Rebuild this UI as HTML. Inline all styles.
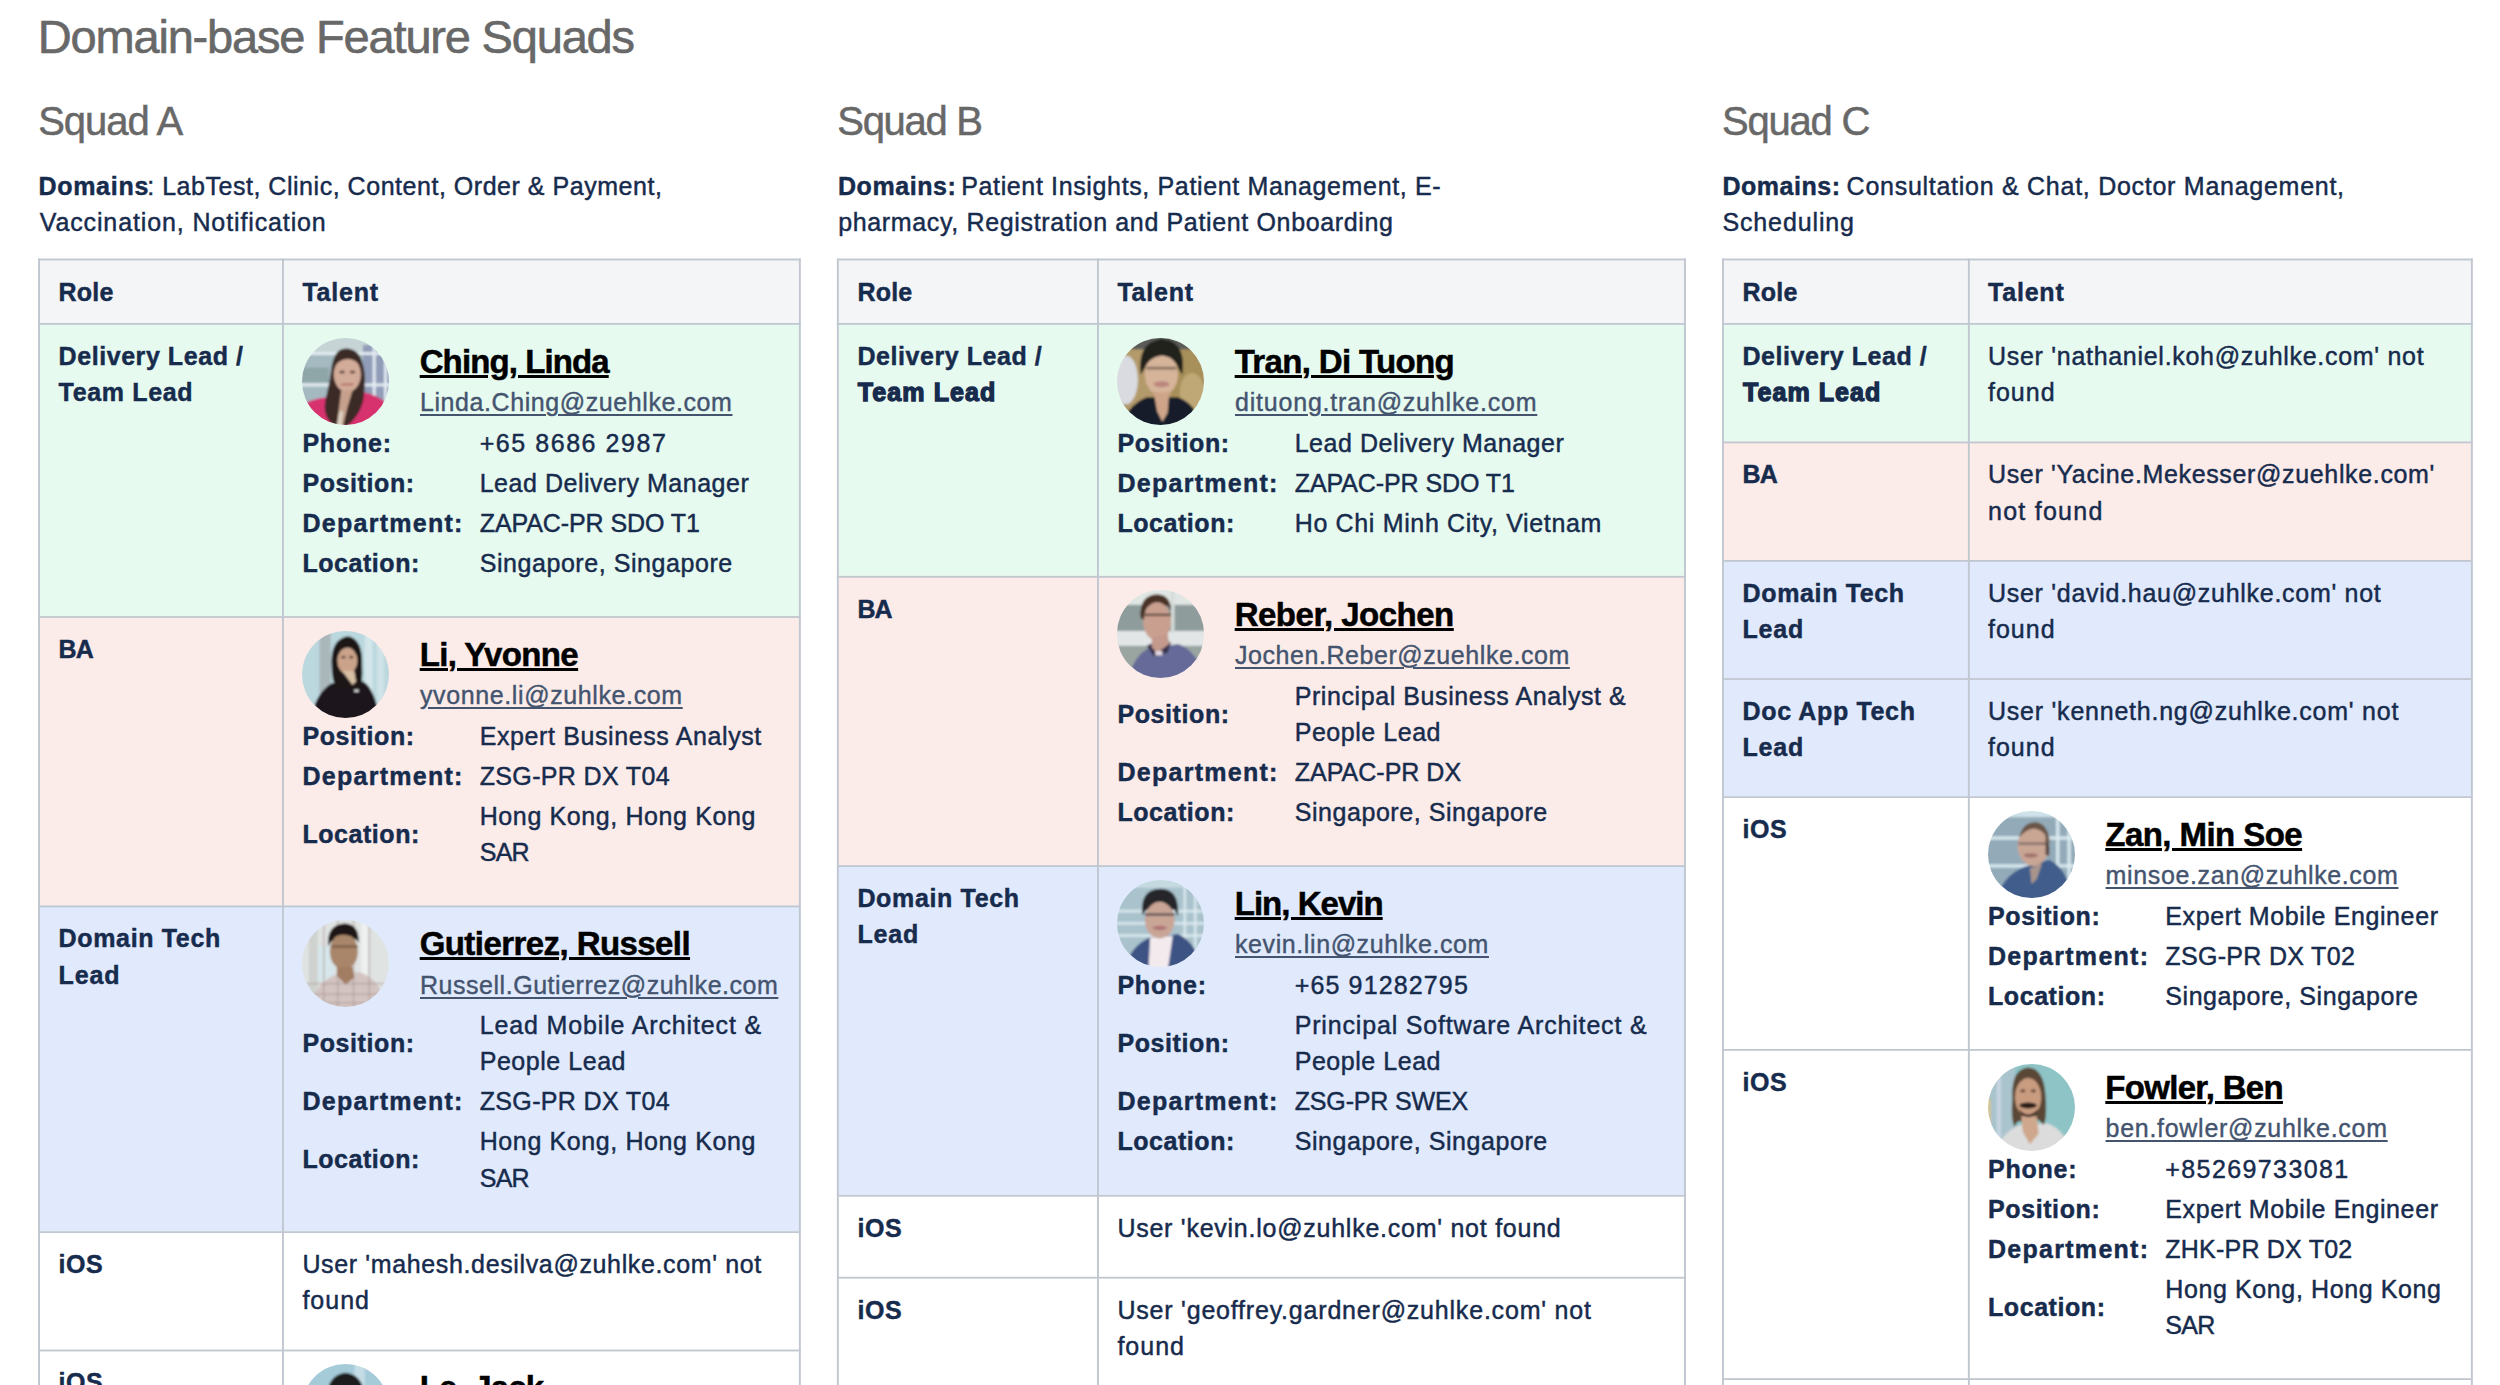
<!DOCTYPE html>
<html lang="en"><head><meta charset="utf-8"><title>Domain-base Feature Squads</title>
<style>
html,body{margin:0;padding:0;background:#fff}
body{width:2500px;height:1385px;overflow:hidden;position:relative;font-family:"Liberation Sans", sans-serif;color:#172b4d}
#grid{position:absolute;left:0;top:0;width:2500px;height:1385px;display:block}
.w{margin:0;padding:0}
.t{position:absolute;white-space:pre;margin:0;display:block}
strong.t{font-weight:700}
.r{font-size:25px;font-weight:400;line-height:36px;-webkit-text-stroke:0.45px #172b4d}
.r b{font-size:25px;font-weight:700;-webkit-text-stroke-width:0.45px}
.b,.bb{font-size:25px;font-weight:700;line-height:36px;-webkit-text-stroke:0.45px #172b4d}
.bb{-webkit-text-stroke-width:1.3px}
.n{font-size:33px;font-weight:700;line-height:44px;color:#000;-webkit-text-stroke:0.5px #000;text-decoration:underline;text-decoration-thickness:2.6px;text-underline-offset:1.8px;text-decoration-skip-ink:auto}
.e{font-size:25px;font-weight:400;line-height:36px;color:#44546f;-webkit-text-stroke:0.4px #44546f;text-decoration:underline;text-decoration-thickness:2px;text-underline-offset:3px}
.h1{font-size:47px;font-weight:400;line-height:60px;color:#686868;-webkit-text-stroke:0.6px #686868}
.h2{font-size:40px;font-weight:400;line-height:52px;color:#686868;-webkit-text-stroke:0.5px #686868}
.av{position:absolute;width:87.2px;height:87.2px;border-radius:50%;overflow:hidden}
.av svg{display:block;width:100%;height:100%}
</style></head>
<body>
<svg id="grid" viewBox="0 0 2500 1385">
<rect x="38.1" y="258.60" width="762.70" height="64.40" fill="#f4f5f7"/>
<rect x="38.1" y="323.00" width="762.70" height="293.10" fill="#e7faf0"/>
<rect x="38.1" y="616.10" width="762.70" height="289.40" fill="#fbece9"/>
<rect x="38.1" y="905.50" width="762.70" height="325.70" fill="#e0eafc"/>
<rect x="38.1" y="1231.20" width="762.70" height="118.40" fill="#ffffff"/>
<rect x="38.1" y="1349.60" width="762.70" height="50.40" fill="#ffffff"/>
<rect x="38.1" y="258.60" width="762.70" height="1.8" fill="#c1c7d0"/>
<rect x="38.1" y="323.00" width="762.70" height="1.8" fill="#c1c7d0"/>
<rect x="38.1" y="616.10" width="762.70" height="1.8" fill="#c1c7d0"/>
<rect x="38.1" y="905.50" width="762.70" height="1.8" fill="#c1c7d0"/>
<rect x="38.1" y="1231.20" width="762.70" height="1.8" fill="#c1c7d0"/>
<rect x="38.1" y="1349.60" width="762.70" height="1.8" fill="#c1c7d0"/>
<rect x="38.10" y="258.60" width="1.9" height="1141.40" fill="#c1c7d0"/>
<rect x="282.00" y="258.60" width="1.9" height="1141.40" fill="#c1c7d0"/>
<rect x="798.90" y="258.60" width="1.9" height="1141.40" fill="#c1c7d0"/>
<rect x="836.9" y="258.60" width="849.00" height="64.40" fill="#f4f5f7"/>
<rect x="836.9" y="323.00" width="849.00" height="252.90" fill="#e7faf0"/>
<rect x="836.9" y="575.90" width="849.00" height="289.30" fill="#fbece9"/>
<rect x="836.9" y="865.20" width="849.00" height="329.70" fill="#e0eafc"/>
<rect x="836.9" y="1194.90" width="849.00" height="81.90" fill="#ffffff"/>
<rect x="836.9" y="1276.80" width="849.00" height="123.20" fill="#ffffff"/>
<rect x="836.9" y="258.60" width="849.00" height="1.8" fill="#c1c7d0"/>
<rect x="836.9" y="323.00" width="849.00" height="1.8" fill="#c1c7d0"/>
<rect x="836.9" y="575.90" width="849.00" height="1.8" fill="#c1c7d0"/>
<rect x="836.9" y="865.20" width="849.00" height="1.8" fill="#c1c7d0"/>
<rect x="836.9" y="1194.90" width="849.00" height="1.8" fill="#c1c7d0"/>
<rect x="836.9" y="1276.80" width="849.00" height="1.8" fill="#c1c7d0"/>
<rect x="836.90" y="258.60" width="1.9" height="1141.40" fill="#c1c7d0"/>
<rect x="1097.00" y="258.60" width="1.9" height="1141.40" fill="#c1c7d0"/>
<rect x="1684.00" y="258.60" width="1.9" height="1141.40" fill="#c1c7d0"/>
<rect x="1722.0" y="258.60" width="750.80" height="64.40" fill="#f4f5f7"/>
<rect x="1722.0" y="323.00" width="750.80" height="118.50" fill="#e7faf0"/>
<rect x="1722.0" y="441.50" width="750.80" height="118.50" fill="#fbece9"/>
<rect x="1722.0" y="560.00" width="750.80" height="118.10" fill="#e0eafc"/>
<rect x="1722.0" y="678.10" width="750.80" height="118.10" fill="#e0eafc"/>
<rect x="1722.0" y="796.20" width="750.80" height="252.80" fill="#ffffff"/>
<rect x="1722.0" y="1049.00" width="750.80" height="329.20" fill="#ffffff"/>
<rect x="1722.0" y="1378.20" width="750.80" height="21.80" fill="#ffffff"/>
<rect x="1722.0" y="258.60" width="750.80" height="1.8" fill="#c1c7d0"/>
<rect x="1722.0" y="323.00" width="750.80" height="1.8" fill="#c1c7d0"/>
<rect x="1722.0" y="441.50" width="750.80" height="1.8" fill="#c1c7d0"/>
<rect x="1722.0" y="560.00" width="750.80" height="1.8" fill="#c1c7d0"/>
<rect x="1722.0" y="678.10" width="750.80" height="1.8" fill="#c1c7d0"/>
<rect x="1722.0" y="796.20" width="750.80" height="1.8" fill="#c1c7d0"/>
<rect x="1722.0" y="1049.00" width="750.80" height="1.8" fill="#c1c7d0"/>
<rect x="1722.0" y="1378.20" width="750.80" height="1.8" fill="#c1c7d0"/>
<rect x="1722.00" y="258.60" width="1.9" height="1141.40" fill="#c1c7d0"/>
<rect x="1967.90" y="258.60" width="1.9" height="1141.40" fill="#c1c7d0"/>
<rect x="2470.90" y="258.60" width="1.9" height="1141.40" fill="#c1c7d0"/>
</svg>

<h1 class="t h1" style="left:37.8px;top:6.8px;letter-spacing:-1.19px">Domain-base Feature Squads</h1>
<section class="w" aria-label="Squad A">
<h2 class="t h2" style="left:38.2px;top:94.5px;letter-spacing:-1.05px">Squad A</h2>
<p class="w"><strong class="t b" style="left:38.4px;top:167.6px;letter-spacing:0.72px">Domains</strong><span class="t r" style="left:147.2px;top:167.6px;letter-spacing:0.53px">: LabTest, Clinic, Content, Order &amp; Payment,</span><span class="t r" style="left:39.7px;top:203.8px;letter-spacing:0.88px">Vaccination, Notification</span></p>
<div class="w" role="table">
<div class="w" role="row">
<div class="w" role="columnheader"><strong class="t b" style="left:58.6px;top:274.1px;letter-spacing:0.21px">Role</strong></div>
<div class="w" role="columnheader"><strong class="t b" style="left:302.4px;top:274.1px;letter-spacing:0.80px">Talent</strong></div>
</div>
<div class="w" role="row">
<div class="w" role="rowheader"><strong class="t b" style="left:58.6px;top:337.8px;letter-spacing:0.56px">Delivery Lead /</strong><strong class="t b" style="left:58.6px;top:374.0px;letter-spacing:0.66px">Team Lead</strong></div>
<div class="w" role="cell"><div class="av" style="left:302.2px;top:337.5px"><svg viewBox="0 0 100 100"><defs><filter id="fli" x="-10%" y="-10%" width="120%" height="120%"><feGaussianBlur stdDeviation="1.1"/></filter></defs><g filter="url(#fli)"><rect x="-5" y="-5" width="110" height="110" fill="#a5b9c1"/><rect x="-5" y="-5" width="110" height="21" fill="#c6d4d6"/><rect x="-5" y="34" width="36" height="17" fill="#8fa6a9"/><rect x="70" y="8" width="35" height="84" fill="#909cb8"/><rect x="81" y="-5" width="3.6" height="110" fill="#e6eef3" opacity="0.92"/><rect x="94" y="-5" width="3.6" height="110" fill="#e6eef3" opacity="0.92"/><rect x="-5" y="16" width="110" height="3.6" fill="#e6eef3" opacity="0.92"/><rect x="-5" y="52" width="110" height="3.6" fill="#e6eef3" opacity="0.92"/><path d="M-5 105 L-5 80 Q8 70 28 68 L70 62 Q90 66 100 78 L105 105 Z" fill="#d7306e"/><path d="M50 12 C40 12 35 22 33 40 C31 55 27 68 26 78 C26 88 30 96 38 101 L52 101 C62 92 70 80 71 66 C73 50 73 36 67 22 C62 13 55 12 50 12 Z" fill="#3b2a25"/><ellipse cx="52" cy="42" rx="15.5" ry="20" fill="#d3ab99"/><path d="M45 60 L58 60 L52 80 L47 101 L40 101 Z" fill="#c6a08c"/><path d="M43 84 L47 84 L45 101 L40 101 Z" fill="#dcd3c4"/><path d="M36 34 Q44 16 58 18 Q66 20 69 34 Q62 24 52 24 Q42 25 36 34 Z" fill="#3b2a25"/><ellipse cx="46" cy="39" rx="3.2" ry="1.8" fill="#3e2a26" opacity="0.75"/><ellipse cx="58" cy="39" rx="3.2" ry="1.8" fill="#3e2a26" opacity="0.75"/><rect x="45" y="52" width="14" height="2.6" fill="#a8605c" opacity="0.65"/></g></svg></div><a class="t n" style="left:419.7px;top:339.6px;letter-spacing:-0.90px">Ching, Linda</a><a class="t e" style="left:420.0px;top:384.0px;letter-spacing:0.58px">Linda.Ching@zuehlke.com</a><strong class="t b" style="left:302.4px;top:424.6px;letter-spacing:0.77px">Phone:</strong><div class="t r" style="left:479.7px;top:424.6px;letter-spacing:1.55px">+65 8686 2987</div><strong class="t b" style="left:302.4px;top:464.6px;letter-spacing:0.60px">Position:</strong><div class="t r" style="left:479.7px;top:464.6px;letter-spacing:0.53px">Lead Delivery Manager</div><strong class="t b" style="left:302.4px;top:504.6px;letter-spacing:1.28px">Department:</strong><div class="t r" style="left:479.7px;top:504.6px;letter-spacing:-0.08px">ZAPAC-PR SDO T1</div><strong class="t b" style="left:302.4px;top:544.6px;letter-spacing:0.56px">Location:</strong><div class="t r" style="left:479.7px;top:544.6px;letter-spacing:0.56px">Singapore, Singapore</div></div>
</div>
<div class="w" role="row">
<div class="w" role="rowheader"><strong class="t b" style="left:58.6px;top:630.9px;letter-spacing:-0.89px">BA</strong></div>
<div class="w" role="cell"><div class="av" style="left:302.2px;top:630.6px"><svg viewBox="0 0 100 100"><defs><filter id="fyv" x="-10%" y="-10%" width="120%" height="120%"><feGaussianBlur stdDeviation="1.1"/></filter></defs><g filter="url(#fyv)"><rect x="-5" y="-5" width="110" height="110" fill="#bbd8df"/><rect x="20" y="-5" width="13" height="80" fill="#aab7ba"/><rect x="72" y="-5" width="9" height="110" fill="#d3e6ea"/><rect x="86" y="-5" width="8" height="110" fill="#cfe3e8"/><path d="M10 105 Q14 72 34 60 L70 58 Q84 66 90 105 Z" fill="#1a161b"/><path d="M34 40 Q32 10 52 6 Q70 8 69 40 Q70 60 66 66 L40 66 Q34 58 34 40 Z" fill="#1c1716"/><ellipse cx="52" cy="34" rx="11.5" ry="15" fill="#cba38a"/><path d="M46 46 L60 46 L62 58 L58 62 Z" fill="#d8c0a4"/><path d="M38 26 Q46 8 64 20 Q56 16 48 20 Q42 22 38 26 Z" fill="#1c1716"/><ellipse cx="47.5" cy="30" rx="2.6" ry="1.5" fill="#3a2824" opacity="0.7"/><ellipse cx="56.5" cy="30" rx="2.6" ry="1.5" fill="#3a2824" opacity="0.7"/><rect x="60" y="67" width="5" height="3" fill="#d8d8d8"/></g></svg></div><a class="t n" style="left:419.7px;top:632.7px;letter-spacing:-0.60px">Li, Yvonne</a><a class="t e" style="left:420.0px;top:677.1px;letter-spacing:0.61px">yvonne.li@zuhlke.com</a><strong class="t b" style="left:302.4px;top:717.7px;letter-spacing:0.60px">Position:</strong><div class="t r" style="left:479.7px;top:717.7px;letter-spacing:0.61px">Expert Business Analyst</div><strong class="t b" style="left:302.4px;top:757.7px;letter-spacing:1.28px">Department:</strong><div class="t r" style="left:479.7px;top:757.7px;letter-spacing:0.35px">ZSG-PR DX T04</div><strong class="t b" style="left:302.4px;top:815.8px;letter-spacing:0.56px">Location:</strong><div class="t r" style="left:479.7px;top:797.7px;letter-spacing:0.61px">Hong Kong, Hong Kong</div><div class="t r" style="left:479.7px;top:833.9px;letter-spacing:-0.71px">SAR</div></div>
</div>
<div class="w" role="row">
<div class="w" role="rowheader"><strong class="t b" style="left:58.6px;top:920.3px;letter-spacing:0.65px">Domain Tech</strong><strong class="t b" style="left:58.6px;top:956.5px;letter-spacing:0.82px">Lead</strong></div>
<div class="w" role="cell"><div class="av" style="left:302.2px;top:920.0px"><svg viewBox="0 0 100 100"><defs><filter id="fru" x="-10%" y="-10%" width="120%" height="120%"><feGaussianBlur stdDeviation="1.1"/></filter></defs><g filter="url(#fru)"><rect x="-5" y="-5" width="110" height="110" fill="#dfe3e2"/><rect x="8" y="-5" width="10" height="110" fill="#cfd2cf"/><rect x="18" y="30" width="20" height="40" fill="#d6e6ea"/><rect x="68" y="-5" width="8" height="110" fill="#eef1f1"/><path d="M8 105 Q14 72 40 62 L66 60 Q92 68 98 105 Z" fill="#d3c4c2"/><rect x="24" y="-5" width="2.2" height="110" fill="#a89490" opacity="0.45"/><rect x="40" y="-5" width="2.2" height="110" fill="#a89490" opacity="0.45"/><rect x="58" y="-5" width="2.2" height="110" fill="#a89490" opacity="0.45"/><rect x="76" y="-5" width="2.2" height="110" fill="#a89490" opacity="0.45"/><rect x="-5" y="72" width="110" height="2.2" fill="#a89490" opacity="0.45"/><rect x="-5" y="84" width="110" height="2.2" fill="#a89490" opacity="0.45"/><rect x="-5" y="94" width="110" height="2.2" fill="#a89490" opacity="0.45"/><path d="M30 30 Q28 6 48 4 Q66 4 65 26 L62 22 L34 24 Z" fill="#1c1512"/><ellipse cx="48" cy="36" rx="16" ry="21" fill="#a9866a"/><path d="M40 54 L58 54 L60 66 L50 74 L40 64 Z" fill="#a27d62"/><rect x="34" y="29" width="30" height="3" fill="#5d4434" opacity="0.55"/><path d="M31 26 Q34 8 50 8 Q64 9 64 24 Q56 16 46 17 Q36 18 31 26 Z" fill="#1c1512"/></g></svg></div><a class="t n" style="left:419.7px;top:922.1px;letter-spacing:-0.57px">Gutierrez, Russell</a><a class="t e" style="left:420.0px;top:966.5px;letter-spacing:0.53px">Russell.Gutierrez@zuhlke.com</a><strong class="t b" style="left:302.4px;top:1025.2px;letter-spacing:0.60px">Position:</strong><div class="t r" style="left:479.7px;top:1007.1px;letter-spacing:0.86px">Lead Mobile Architect &amp;</div><div class="t r" style="left:479.7px;top:1043.3px;letter-spacing:0.54px">People Lead</div><strong class="t b" style="left:302.4px;top:1083.3px;letter-spacing:1.28px">Department:</strong><div class="t r" style="left:479.7px;top:1083.3px;letter-spacing:0.35px">ZSG-PR DX T04</div><strong class="t b" style="left:302.4px;top:1141.4px;letter-spacing:0.56px">Location:</strong><div class="t r" style="left:479.7px;top:1123.3px;letter-spacing:0.61px">Hong Kong, Hong Kong</div><div class="t r" style="left:479.7px;top:1159.5px;letter-spacing:-0.71px">SAR</div></div>
</div>
<div class="w" role="row">
<div class="w" role="rowheader"><strong class="t b" style="left:58.6px;top:1246.0px;letter-spacing:0.56px">iOS</strong></div>
<div class="w" role="cell"><div class="t r" style="left:302.4px;top:1246.0px;letter-spacing:0.64px">User 'mahesh.desilva@zuhlke.com' not</div><div class="t r" style="left:302.4px;top:1282.2px;letter-spacing:1.01px">found</div></div>
</div>
<div class="w" role="row">
<div class="w" role="rowheader"><strong class="t b" style="left:58.6px;top:1364.4px;letter-spacing:0.56px">iOS</strong></div>
<div class="w" role="cell"><div class="av" style="left:302.2px;top:1364.1px"><svg viewBox="0 0 100 100"><defs><filter id="fja" x="-10%" y="-10%" width="120%" height="120%"><feGaussianBlur stdDeviation="1.1"/></filter></defs><g filter="url(#fja)"><rect x="-5" y="-5" width="110" height="110" fill="#a6cbd8"/><rect x="60" y="-5" width="12" height="110" fill="#c4dde6"/><path d="M28 50 Q26 12 50 10 Q74 12 72 50 Z" fill="#1a1a1c"/><ellipse cx="50" cy="46" rx="16" ry="20" fill="#caa48e"/><path d="M10 105 Q16 76 40 68 L64 68 Q88 76 92 105 Z" fill="#2a2f3a"/></g></svg></div><a class="t n" style="left:419.7px;top:1366.2px;letter-spacing:-0.82px">Le, Jack</a></div>
</div>
</div>
</section>
<section class="w" aria-label="Squad B">
<h2 class="t h2" style="left:837.3px;top:94.5px;letter-spacing:-1.31px">Squad B</h2>
<p class="w"><strong class="t b" style="left:838.0px;top:167.6px;letter-spacing:0.55px">Domains:</strong><span class="t r" style="left:961.2px;top:167.6px;letter-spacing:0.64px">Patient Insights, Patient Management, E-</span><span class="t r" style="left:838.2px;top:203.8px;letter-spacing:0.65px">pharmacy, Registration and Patient Onboarding</span></p>
<div class="w" role="table">
<div class="w" role="row">
<div class="w" role="columnheader"><strong class="t b" style="left:857.4px;top:274.1px;letter-spacing:0.21px">Role</strong></div>
<div class="w" role="columnheader"><strong class="t b" style="left:1117.4px;top:274.1px;letter-spacing:0.80px">Talent</strong></div>
</div>
<div class="w" role="row">
<div class="w" role="rowheader"><strong class="t b" style="left:857.4px;top:337.8px;letter-spacing:0.56px">Delivery Lead /</strong><strong class="t bb" style="left:857.8px;top:374.0px;letter-spacing:1.09px">Team Lead</strong></div>
<div class="w" role="cell"><div class="av" style="left:1117.2px;top:337.5px"><svg viewBox="0 0 100 100"><defs><filter id="ftr" x="-10%" y="-10%" width="120%" height="120%"><feGaussianBlur stdDeviation="1.1"/></filter></defs><g filter="url(#ftr)"><rect x="-5" y="-5" width="110" height="110" fill="#b39a6a"/><rect x="62" y="10" width="45" height="80" fill="#a8905a"/><ellipse cx="86" cy="62" rx="14" ry="22" fill="#c4ae7c" opacity="0.8"/><rect x="-5" y="-5" width="110" height="18" fill="#5a5a58"/><ellipse cx="10" cy="48" rx="14" ry="28" fill="#d9dbe0"/><path d="M4 105 Q10 78 34 68 L70 68 Q92 76 98 105 Z" fill="#161c29"/><path d="M28 36 Q26 4 52 2 Q74 4 72 34 L68 28 L34 28 Z" fill="#23211f"/><ellipse cx="51" cy="42" rx="19" ry="24" fill="#d6b49a"/><path d="M42 62 L60 62 L58 86 L52 96 L46 84 Z" fill="#cfa58a"/><rect x="34" y="33" width="34" height="3.2" fill="#5a463c" opacity="0.6"/><ellipse cx="51" cy="53" rx="9" ry="3.5" fill="#b57a78" opacity="0.8"/><path d="M27 42 Q23 4 52 1 Q80 4 75 42 L71 36 Q66 21 51 20 Q36 22 31 36 Z" fill="#23211f"/></g></svg></div><a class="t n" style="left:1234.7px;top:339.6px;letter-spacing:-0.65px">Tran, Di Tuong</a><a class="t e" style="left:1235.0px;top:384.0px;letter-spacing:0.80px">dituong.tran@zuhlke.com</a><strong class="t b" style="left:1117.4px;top:424.6px;letter-spacing:0.60px">Position:</strong><div class="t r" style="left:1294.7px;top:424.6px;letter-spacing:0.53px">Lead Delivery Manager</div><strong class="t b" style="left:1117.4px;top:464.6px;letter-spacing:1.28px">Department:</strong><div class="t r" style="left:1294.7px;top:464.6px;letter-spacing:-0.08px">ZAPAC-PR SDO T1</div><strong class="t b" style="left:1117.4px;top:504.6px;letter-spacing:0.56px">Location:</strong><div class="t r" style="left:1294.7px;top:504.6px;letter-spacing:0.66px">Ho Chi Minh City, Vietnam</div></div>
</div>
<div class="w" role="row">
<div class="w" role="rowheader"><strong class="t b" style="left:857.4px;top:590.7px;letter-spacing:-0.89px">BA</strong></div>
<div class="w" role="cell"><div class="av" style="left:1117.2px;top:590.4px"><svg viewBox="0 0 100 100"><defs><filter id="fjo" x="-10%" y="-10%" width="120%" height="120%"><feGaussianBlur stdDeviation="1.1"/></filter></defs><g filter="url(#fjo)"><rect x="-5" y="-5" width="110" height="110" fill="#8f9c9c"/><rect x="-5" y="-5" width="110" height="22" fill="#dfe6e4"/><rect x="-5" y="47" width="110" height="18" fill="#e3e6e6"/><rect x="-5" y="64" width="110" height="45" fill="#9aa5a2"/><rect x="62" y="-5" width="4" height="55" fill="#d5dcd8"/><path d="M12 105 Q18 78 34 68 L70 62 Q94 70 100 105 Z" fill="#666a99"/><path d="M34 64 L48 58 L62 60 L58 72 L42 76 Z" fill="#3a3550"/><path d="M27 30 Q26 6 46 5 Q62 6 62 24 L58 18 L32 20 Z" fill="#5a3e30"/><ellipse cx="46" cy="36" rx="16" ry="22" fill="#c9a090"/><path d="M40 54 L58 50 L60 62 L46 72 L40 66 Z" fill="#c39a8c"/><rect x="32" y="27" width="30" height="3" fill="#4a3630" opacity="0.7"/><path d="M27 32 Q26 8 44 6 Q58 6 61 20 Q52 12 42 14 Q32 16 31 34 Z" fill="#4a3228"/><rect x="44" y="70" width="8" height="5" fill="#e5d8e0"/></g></svg></div><a class="t n" style="left:1234.7px;top:592.5px;letter-spacing:-0.50px">Reber, Jochen</a><a class="t e" style="left:1235.0px;top:636.9px;letter-spacing:0.56px">Jochen.Reber@zuehlke.com</a><strong class="t b" style="left:1117.4px;top:695.6px;letter-spacing:0.60px">Position:</strong><div class="t r" style="left:1294.7px;top:677.5px;letter-spacing:0.58px">Principal Business Analyst &amp;</div><div class="t r" style="left:1294.7px;top:713.7px;letter-spacing:0.54px">People Lead</div><strong class="t b" style="left:1117.4px;top:753.7px;letter-spacing:1.28px">Department:</strong><div class="t r" style="left:1294.7px;top:753.7px;letter-spacing:0.02px">ZAPAC-PR DX</div><strong class="t b" style="left:1117.4px;top:793.7px;letter-spacing:0.56px">Location:</strong><div class="t r" style="left:1294.7px;top:793.7px;letter-spacing:0.56px">Singapore, Singapore</div></div>
</div>
<div class="w" role="row">
<div class="w" role="rowheader"><strong class="t b" style="left:857.4px;top:880.0px;letter-spacing:0.65px">Domain Tech</strong><strong class="t b" style="left:857.4px;top:916.2px;letter-spacing:0.82px">Lead</strong></div>
<div class="w" role="cell"><div class="av" style="left:1117.2px;top:879.7px"><svg viewBox="0 0 100 100"><defs><filter id="fke" x="-10%" y="-10%" width="120%" height="120%"><feGaussianBlur stdDeviation="1.1"/></filter></defs><g filter="url(#fke)"><rect x="-5" y="-5" width="110" height="110" fill="#a9c2cc"/><rect x="-5" y="-5" width="110" height="14" fill="#c4dae0"/><rect x="76" y="-5" width="3.5" height="110" fill="#dbe9ee" opacity="0.85"/><rect x="88" y="-5" width="3.5" height="110" fill="#dbe9ee" opacity="0.85"/><rect x="-5" y="34" width="110" height="3.5" fill="#dbe9ee" opacity="0.85"/><rect x="-5" y="48" width="110" height="3.5" fill="#dbe9ee" opacity="0.85"/><rect x="-5" y="62" width="110" height="3.5" fill="#dbe9ee" opacity="0.85"/><path d="M8 105 Q14 76 38 66 L70 62 Q92 72 98 105 Z" fill="#3d5384"/><path d="M38 66 L64 64 L58 105 L36 105 Z" fill="#f3eaee"/><path d="M29 40 Q26 10 50 10 Q72 10 70 42 L66 34 L34 34 Z" fill="#25262a"/><ellipse cx="49" cy="46" rx="17" ry="21" fill="#c9a596"/><rect x="32" y="38" width="34" height="3.2" fill="#4a4248" opacity="0.7"/><ellipse cx="49" cy="55" rx="8" ry="2.6" fill="#a86a6c" opacity="0.8"/><path d="M30 38 Q32 12 50 12 Q68 13 69 38 Q60 22 48 23 Q38 24 30 38 Z" fill="#25262a"/></g></svg></div><a class="t n" style="left:1234.7px;top:881.8px;letter-spacing:-0.97px">Lin, Kevin</a><a class="t e" style="left:1235.0px;top:926.2px;letter-spacing:0.59px">kevin.lin@zuhlke.com</a><strong class="t b" style="left:1117.4px;top:966.8px;letter-spacing:0.77px">Phone:</strong><div class="t r" style="left:1294.7px;top:966.8px;letter-spacing:1.14px">+65 91282795</div><strong class="t b" style="left:1117.4px;top:1024.9px;letter-spacing:0.60px">Position:</strong><div class="t r" style="left:1294.7px;top:1006.8px;letter-spacing:0.83px">Principal Software Architect &amp;</div><div class="t r" style="left:1294.7px;top:1043.0px;letter-spacing:0.54px">People Lead</div><strong class="t b" style="left:1117.4px;top:1083.0px;letter-spacing:1.28px">Department:</strong><div class="t r" style="left:1294.7px;top:1083.0px;letter-spacing:-0.15px">ZSG-PR SWEX</div><strong class="t b" style="left:1117.4px;top:1123.0px;letter-spacing:0.56px">Location:</strong><div class="t r" style="left:1294.7px;top:1123.0px;letter-spacing:0.56px">Singapore, Singapore</div></div>
</div>
<div class="w" role="row">
<div class="w" role="rowheader"><strong class="t b" style="left:857.4px;top:1209.7px;letter-spacing:0.56px">iOS</strong></div>
<div class="w" role="cell"><div class="t r" style="left:1117.4px;top:1209.7px;letter-spacing:0.75px">User 'kevin.lo@zuhlke.com' not found</div></div>
</div>
<div class="w" role="row">
<div class="w" role="rowheader"><strong class="t b" style="left:857.4px;top:1291.6px;letter-spacing:0.56px">iOS</strong></div>
<div class="w" role="cell"><div class="t r" style="left:1117.4px;top:1291.6px;letter-spacing:0.80px">User 'geoffrey.gardner@zuhlke.com' not</div><div class="t r" style="left:1117.4px;top:1327.8px;letter-spacing:1.01px">found</div></div>
</div>
</div>
</section>
<section class="w" aria-label="Squad C">
<h2 class="t h2" style="left:1722.1px;top:94.5px;letter-spacing:-1.23px">Squad C</h2>
<p class="w"><strong class="t b" style="left:1722.4px;top:167.6px;letter-spacing:0.55px">Domains:</strong><span class="t r" style="left:1846.6px;top:167.6px;letter-spacing:0.73px">Consultation &amp; Chat, Doctor Management,</span><span class="t r" style="left:1722.4px;top:203.8px;letter-spacing:0.88px">Scheduling</span></p>
<div class="w" role="table">
<div class="w" role="row">
<div class="w" role="columnheader"><strong class="t b" style="left:1742.5px;top:274.1px;letter-spacing:0.21px">Role</strong></div>
<div class="w" role="columnheader"><strong class="t b" style="left:1988.0px;top:274.1px;letter-spacing:0.80px">Talent</strong></div>
</div>
<div class="w" role="row">
<div class="w" role="rowheader"><strong class="t b" style="left:1742.5px;top:337.8px;letter-spacing:0.56px">Delivery Lead /</strong><strong class="t bb" style="left:1742.9px;top:374.0px;letter-spacing:1.09px">Team Lead</strong></div>
<div class="w" role="cell"><div class="t r" style="left:1988.0px;top:337.8px;letter-spacing:0.71px">User 'nathaniel.koh@zuhlke.com' not</div><div class="t r" style="left:1988.0px;top:374.0px;letter-spacing:1.01px">found</div></div>
</div>
<div class="w" role="row">
<div class="w" role="rowheader"><strong class="t b" style="left:1742.5px;top:456.3px;letter-spacing:-0.89px">BA</strong></div>
<div class="w" role="cell"><div class="t r" style="left:1988.0px;top:456.3px;letter-spacing:0.65px">User 'Yacine.Mekesser@zuehlke.com'</div><div class="t r" style="left:1988.0px;top:492.5px;letter-spacing:1.26px">not found</div></div>
</div>
<div class="w" role="row">
<div class="w" role="rowheader"><strong class="t b" style="left:1742.5px;top:574.8px;letter-spacing:0.65px">Domain Tech</strong><strong class="t b" style="left:1742.5px;top:611.0px;letter-spacing:0.82px">Lead</strong></div>
<div class="w" role="cell"><div class="t r" style="left:1988.0px;top:574.8px;letter-spacing:0.72px">User 'david.hau@zuhlke.com' not</div><div class="t r" style="left:1988.0px;top:611.0px;letter-spacing:1.01px">found</div></div>
</div>
<div class="w" role="row">
<div class="w" role="rowheader"><strong class="t b" style="left:1742.5px;top:692.9px;letter-spacing:0.65px">Doc App Tech</strong><strong class="t b" style="left:1742.5px;top:729.1px;letter-spacing:0.82px">Lead</strong></div>
<div class="w" role="cell"><div class="t r" style="left:1988.0px;top:692.9px;letter-spacing:0.77px">User 'kenneth.ng@zuhlke.com' not</div><div class="t r" style="left:1988.0px;top:729.1px;letter-spacing:1.01px">found</div></div>
</div>
<div class="w" role="row">
<div class="w" role="rowheader"><strong class="t b" style="left:1742.5px;top:811.0px;letter-spacing:0.56px">iOS</strong></div>
<div class="w" role="cell"><div class="av" style="left:1987.8px;top:810.7px"><svg viewBox="0 0 100 100"><defs><filter id="fza" x="-10%" y="-10%" width="120%" height="120%"><feGaussianBlur stdDeviation="1.1"/></filter></defs><g filter="url(#fza)"><rect x="-5" y="-5" width="110" height="110" fill="#93abb9"/><rect x="-5" y="-5" width="110" height="12" fill="#cfe2ea"/><rect x="78" y="-5" width="4" height="110" fill="#dcebf1" opacity="0.9"/><rect x="91" y="-5" width="4" height="110" fill="#dcebf1" opacity="0.9"/><rect x="-5" y="29" width="110" height="4" fill="#dcebf1" opacity="0.9"/><rect x="-5" y="61" width="110" height="4" fill="#dcebf1" opacity="0.9"/><path d="M8 105 Q16 74 42 64 L70 56 Q92 66 98 105 Z" fill="#3f5d8c"/><path d="M48 66 L62 60 L56 78 L50 84 Z" fill="#a8948c"/><ellipse cx="52" cy="40" rx="18" ry="23" fill="#c9a594"/><path d="M36 30 Q40 12 56 13 Q70 16 71 38 Q66 22 54 20 Q44 20 36 30 Z" fill="#6a5748"/><rect x="35" y="36" width="32" height="2.8" fill="#5b4e52" opacity="0.6"/><ellipse cx="49" cy="51" rx="8" ry="2.6" fill="#9a6660" opacity="0.8"/><path d="M66 28 Q72 36 70 52 L66 50 Z" fill="#5a4a40"/></g></svg></div><a class="t n" style="left:2105.3px;top:812.8px;letter-spacing:-0.56px">Zan, Min Soe</a><a class="t e" style="left:2105.6px;top:857.2px;letter-spacing:0.63px">minsoe.zan@zuhlke.com</a><strong class="t b" style="left:1988.0px;top:897.8px;letter-spacing:0.60px">Position:</strong><div class="t r" style="left:2165.3px;top:897.8px;letter-spacing:0.61px">Expert Mobile Engineer</div><strong class="t b" style="left:1988.0px;top:937.8px;letter-spacing:1.28px">Department:</strong><div class="t r" style="left:2165.3px;top:937.8px;letter-spacing:0.32px">ZSG-PR DX T02</div><strong class="t b" style="left:1988.0px;top:977.8px;letter-spacing:0.56px">Location:</strong><div class="t r" style="left:2165.3px;top:977.8px;letter-spacing:0.56px">Singapore, Singapore</div></div>
</div>
<div class="w" role="row">
<div class="w" role="rowheader"><strong class="t b" style="left:1742.5px;top:1063.8px;letter-spacing:0.56px">iOS</strong></div>
<div class="w" role="cell"><div class="av" style="left:1987.8px;top:1063.5px"><svg viewBox="0 0 100 100"><defs><filter id="fbe" x="-10%" y="-10%" width="120%" height="120%"><feGaussianBlur stdDeviation="1.1"/></filter></defs><g filter="url(#fbe)"><rect x="-5" y="-5" width="110" height="110" fill="#8ec4c6"/><rect x="-5" y="-5" width="36" height="110" fill="#a9c4cc"/><rect x="10" y="-5" width="5" height="110" fill="#c6d4e0"/><rect x="-5" y="40" width="8" height="50" fill="#d9c48c"/><path d="M6 105 Q14 80 36 70 L68 68 Q90 76 96 105 Z" fill="#dcdcdc"/><path d="M28 40 Q26 6 46 4 Q64 5 66 36 Q68 60 64 70 L58 64 L34 66 L30 72 Q26 60 28 40 Z" fill="#5a4636"/><ellipse cx="46" cy="38" rx="15" ry="22" fill="#c99c80"/><path d="M38 60 L56 60 L58 80 L48 92 L40 78 Z" fill="#cfa78c"/><ellipse cx="46" cy="47.5" rx="10" ry="3.4" fill="#2a1c18"/><path d="M36 52 Q46 64 57 52 Q56 60 46 61 Q38 60 36 52 Z" fill="#3a2820"/><ellipse cx="40" cy="31" rx="3" ry="1.7" fill="#3a261e" opacity="0.75"/><ellipse cx="52" cy="31" rx="3" ry="1.7" fill="#3a261e" opacity="0.75"/><path d="M32 26 Q36 8 48 8 Q60 9 62 26 Q54 14 46 15 Q38 16 32 26 Z" fill="#5a4636"/></g></svg></div><a class="t n" style="left:2105.3px;top:1065.6px;letter-spacing:-0.69px">Fowler, Ben</a><a class="t e" style="left:2105.6px;top:1110.0px;letter-spacing:0.71px">ben.fowler@zuhlke.com</a><strong class="t b" style="left:1988.0px;top:1150.6px;letter-spacing:0.77px">Phone:</strong><div class="t r" style="left:2165.3px;top:1150.6px;letter-spacing:1.40px">+85269733081</div><strong class="t b" style="left:1988.0px;top:1190.6px;letter-spacing:0.60px">Position:</strong><div class="t r" style="left:2165.3px;top:1190.6px;letter-spacing:0.61px">Expert Mobile Engineer</div><strong class="t b" style="left:1988.0px;top:1230.6px;letter-spacing:1.28px">Department:</strong><div class="t r" style="left:2165.3px;top:1230.6px;letter-spacing:0.22px">ZHK-PR DX T02</div><strong class="t b" style="left:1988.0px;top:1288.7px;letter-spacing:0.56px">Location:</strong><div class="t r" style="left:2165.3px;top:1270.6px;letter-spacing:0.61px">Hong Kong, Hong Kong</div><div class="t r" style="left:2165.3px;top:1306.8px;letter-spacing:-0.71px">SAR</div></div>
</div>
</div>
</section>
</body></html>
